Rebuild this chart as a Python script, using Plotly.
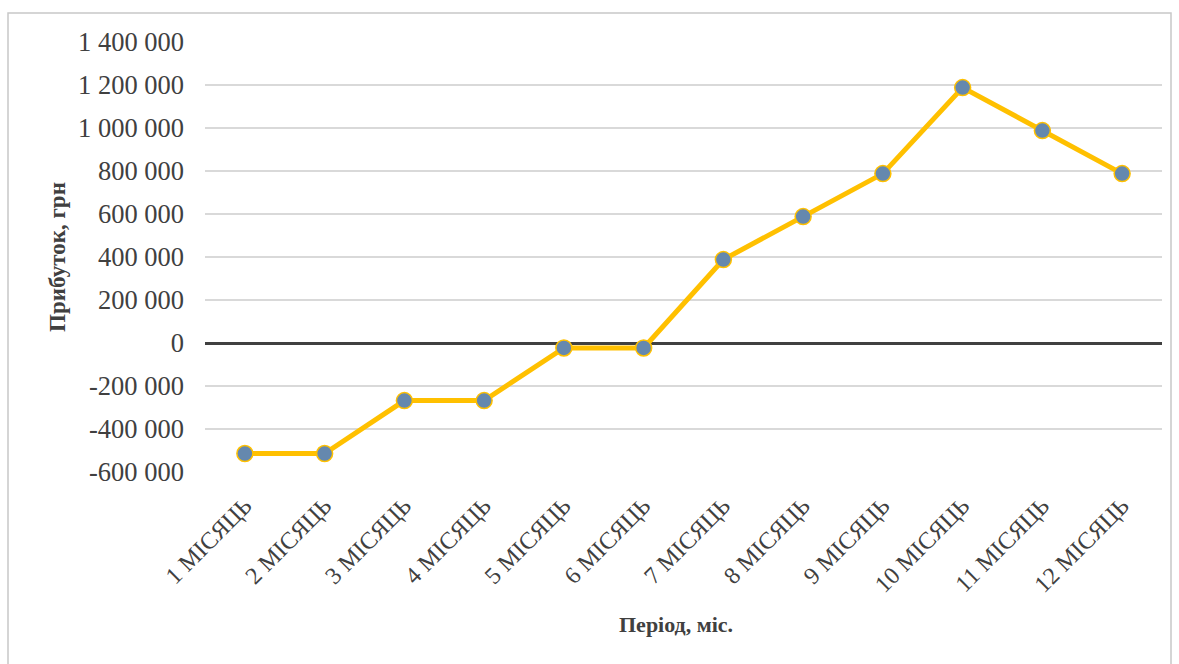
import plotly.graph_objects as go

# Monthly profit over the first year of the project, UAH
months = ["1 МІСЯЦЬ", "2 МІСЯЦЬ", "3 МІСЯЦЬ", "4 МІСЯЦЬ", "5 МІСЯЦЬ", "6 МІСЯЦЬ",
          "7 МІСЯЦЬ", "8 МІСЯЦЬ", "9 МІСЯЦЬ", "10 МІСЯЦЬ", "11 МІСЯЦЬ", "12 МІСЯЦЬ"]
profit = [-514000, -514000, -268000, -268000, -23000, -23000,
          388000, 588000, 788000, 1188000, 988000, 788000]

y_ticks = [-600000, -400000, -200000, 0, 200000, 400000, 600000,
           800000, 1000000, 1200000, 1400000]
y_tick_text = ["-600 000", "-400 000", "-200 000", "0", "200 000", "400 000",
               "600 000", "800 000", "1 000 000", "1 200 000", "1 400 000"]

W, H = 1179, 664
L, R, T, B = 205, 17, 42, 192

FONT = "Liberation Serif, Times New Roman, serif"
TEXT = "#404040"

fig = go.Figure()
fig.add_trace(go.Scatter(
    x=months, y=profit, mode="lines+markers",
    line=dict(color="#FFC000", width=5),
    marker=dict(size=16, color="#6588AE", line=dict(color="#FFC000", width=1.5)),
    showlegend=False, hoverinfo="x+y",
))

pw, ph = W - L - R, H - T - B
# outer chart frame, expressed in paper units
fig.add_shape(type="rect", xref="paper", yref="paper", layer="below",
              x0=(8 - L) / pw, x1=(1171 - L) / pw,
              y0=(H - B - 680) / ph, y1=(H - B - 13) / ph,
              line=dict(color="#C8C8C8", width=1.5), fillcolor="rgba(0,0,0,0)")

# x-axis title placed under the rotated month labels
fig.add_annotation(text="<b>Період, міс.</b>", xref="paper", yref="paper",
                   x=(676 - L) / pw, y=(H - B - 624) / ph,
                   xanchor="center", yanchor="middle", showarrow=False,
                   font=dict(size=22, color=TEXT, family=FONT))

fig.update_layout(
    width=W, height=H,
    margin=dict(l=L, r=R, t=T, b=B),
    paper_bgcolor="white", plot_bgcolor="white",
    font=dict(family=FONT, color=TEXT),
    xaxis=dict(
        type="category", range=[-0.5, 11.5],
        tickangle=-45, tickfont=dict(size=24, color=TEXT, family=FONT),
        showgrid=False, zeroline=False, showline=False, ticks="",
        ticklabelstandoff=14,
    ),
    yaxis=dict(
        range=[-600000, 1400000], tickvals=y_ticks, ticktext=y_tick_text,
        tickfont=dict(size=26.5, color=TEXT, family=FONT),
        showgrid=True, gridcolor="#D9D9D9", gridwidth=1.5,
        zeroline=True, zerolinecolor="#404040", zerolinewidth=3,
        showline=False, ticks="", ticklabelstandoff=20,
        title=dict(text="<b>Прибуток, грн</b>", font=dict(size=23, color=TEXT), standoff=5),
    ),
)

fig.write_html("out.html")
